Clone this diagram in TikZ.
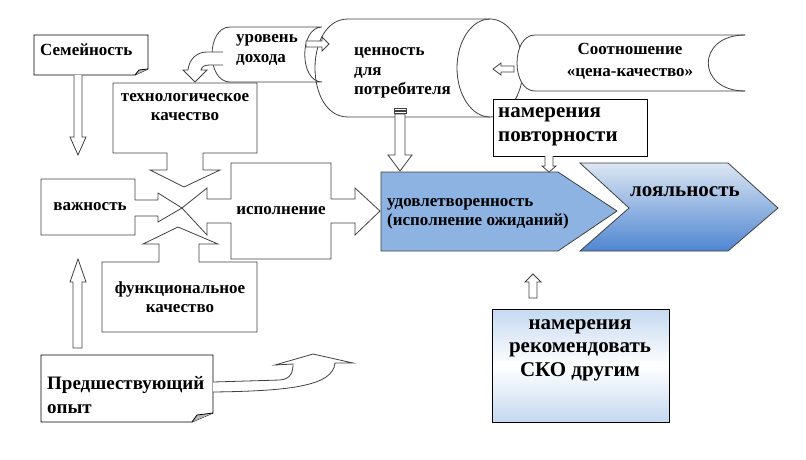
\documentclass[tikz,border=0pt]{standalone}
\usepackage{fontspec}
\setmainfont{Liberation Serif}
\usetikzlibrary{calc}
\definecolor{satis}{HTML}{8DB3E2}
\definecolor{loytop}{HTML}{DCE6F2}
\definecolor{loybot}{HTML}{4F86D2}
\definecolor{rectop}{HTML}{C5D9F1}
\definecolor{edge}{HTML}{404040}
\tikzset{
  outl/.style={draw=edge, line width=0.8pt, line join=miter},
  wfill/.style={outl, fill=white},
  sm/.style={font=\bfseries\fontsize{17}{19.5}\selectfont, inner sep=0pt},
  bg/.style={font=\bfseries\fontsize{21}{24.5}\selectfont, inner sep=0pt},
  md/.style={font=\bfseries\fontsize{19}{24}\selectfont, inner sep=0pt},
}
\begin{document}
\begin{tikzpicture}[x=1pt,y=-1pt]
\useasboundingbox (0,0) rectangle (806,459);
% cylinder
\draw[wfill] (490,19) -- (348,19) .. controls (304,19) and (304,117) .. (348,117) -- (490,117);
\draw[outl] (490,68) ellipse [x radius=33, y radius=49];
% income level
\draw[outl] (322,27) -- (230,27) .. controls (206,27) and (206,82) .. (230,82) -- (322,82) .. controls (299,82) and (299,27) .. (322,27);
\draw[wfill] (306,41) -- (322,41) -- (322,37) -- (329,44) -- (322,51) -- (322,47) -- (306,47) -- cycle;
% price quality
\draw[wfill] (745,35) -- (535,35) .. controls (511,35) and (511,91) .. (535,91) -- (745,91);
\draw[outl] (745,91) .. controls (696,91) and (696,35) .. (745,35);
\draw[wfill] (514,66) -- (501,66) -- (501,63) -- (493,69) -- (501,75) -- (501,72) -- (514,72) -- cycle;
% curved arrow from income
\draw[wfill] (223,52) -- (207,52) .. controls (196,52) and (189,60) .. (188,70) -- (183,70) -- (195,82) -- (207,70) -- (201,70) .. controls (202,66) and (205,65) .. (210,65) -- (223,65);
% family
\draw[outl, draw=black, fill=white] (34,35) -- (148,35) -- (148,69) -- (135,75) -- (34,75) -- cycle;
\fill[gray!55] (135,75) -- (139,70) -- (148,69) -- cycle;
\draw[outl, draw=black] (135,75) -- (139,70) -- (148,69);
\draw[wfill] (74,75) -- (74,137) -- (70,137) -- (78,155) -- (86,137) -- (82,137) -- (82,75);
% tech quality
\draw[outl] (113,83) -- (257,83) -- (257,153) -- (203,153) -- (203,170) -- (220,170) -- (184,187) -- (150,170) -- (167,170) -- (167,153) -- (113,153) -- cycle;
% func quality
\draw[outl] (102,332) -- (102,262) -- (159,262) -- (159,244) -- (143,244) -- (178,227) -- (218,244) -- (199,244) -- (199,262) -- (257,262) -- (257,332) -- cycle;
% importance
\draw[outl] (41,179) -- (135,179) -- (135,200) -- (158,200) -- (158,193) -- (182,208) -- (158,222) -- (158,216) -- (135,216) -- (135,235) -- (41,235) -- cycle;
% performance
\draw[outl] (231,163) -- (331,163) -- (331,199) -- (355,199) -- (355,188) -- (380,211) -- (355,235) -- (355,223) -- (331,223) -- (331,259) -- (231,259) -- (231,223) -- (207,223) -- (207,235) -- (182,208) -- (207,188) -- (207,199) -- (231,199) -- cycle;
% satisfaction
\draw[outl, fill=satis] (381,172) -- (558,172) -- (617,211) -- (558,251) -- (381,251) -- cycle;
% loyalty
\draw[outl, top color=loytop, bottom color=loybot] (580,163) -- (728,163) -- (778,208) -- (728,251) -- (580,251) -- (629,208) -- cycle;
% value down arrow
\draw[wfill] (394,108) rectangle (406,110);
\draw[wfill] (394,111) rectangle (406,113);
\draw[wfill] (395,114) -- (395,155) -- (388,155) -- (400,171) -- (412,155) -- (405,155) -- (405,114) -- cycle;
% repeat intention
\draw[outl, draw=black, fill=white] (493,99) rectangle (647,156);
\draw[wfill] (545,156) -- (545,166) -- (542,166) -- (549,172) -- (556,166) -- (553,166) -- (553,156);
% recommend
\draw[outl, draw=black, top color=rectop, bottom color=rectop, middle color=white] (492,309) rectangle (669,422);
\draw[wfill] (529,298) -- (529,282) -- (525,282) -- (533,274) -- (541,282) -- (537,282) -- (537,298) -- cycle;
% prior experience
\draw[wfill] (73,348) -- (73,282) -- (70,282) -- (78,259) -- (86,282) -- (82,282) -- (82,348) -- cycle;
\draw[outl, draw=black, fill=white] (41,355) -- (213,355) -- (213,413) -- (192,422) -- (41,422) -- cycle;
\fill[gray!55] (192,422) -- (197,415) -- (213,413) -- cycle;
\draw[outl, draw=black] (192,422) -- (197,415) -- (213,413);
\draw[wfill] (213,382) -- (280,380) .. controls (291,379) and (293,372) .. (293,364) -- (275,365) -- (313,354) -- (353,363) -- (335,363) .. controls (333,386) and (290,391) .. (213,392);
% texts
\node[sm, anchor=west] (fam) at (40,50) {Семейность};
\node[sm, align=center] (tech) at (185,107) {технологическое\\качество};
\node[sm] (imp) at (90,207) {важность};
\node[sm] (perf) at (281,211) {исполнение};
\node[sm, align=center] (func) at (180,297) {функциональное\\качество};
\node[sm, align=left, anchor=west] (inc) at (236,50) {уровень\\дохода};
\node[sm, align=left, anchor=west] (val) at (354,73) {ценность\\для\\потребителя};
\node[sm, align=center, font=\bfseries\fontsize{17}{22}\selectfont] (pq) at (630,61) {Соотношение\\«цена-качество»};
\node[bg, align=left, anchor=west] (rep) at (498,127) {намерения\\повторности};
\node[sm, align=left, anchor=west] (sat) at (387,214) {удовлетворенность\\(исполнение ожиданий)};
\node[bg, anchor=west] (loy) at (630,192) {лояльность};
\node[bg, align=center, font=\bfseries\fontsize{21}{23.5}\selectfont] (rec) at (580,350) {намерения\\рекомендовать\\СКО другим};
\node[md, align=left, anchor=west] (exp) at (47,395) {Предшествующий\\опыт};
\end{tikzpicture}
\end{document}
